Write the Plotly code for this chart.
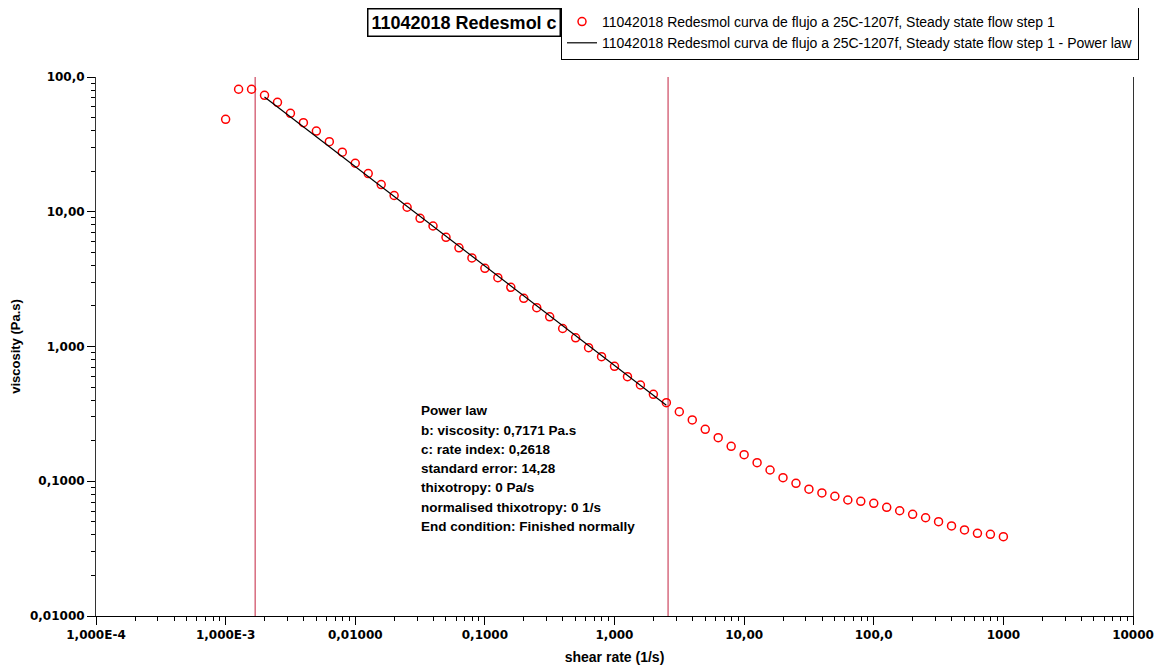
import plotly.graph_objects as go

# ---------------- data ----------------
shear_rate = [
    0.001, 0.001259, 0.001585, 0.001995, 0.002512, 0.003162, 0.003981, 0.005012, 0.00631, 0.007943,
    0.01, 0.01259, 0.01585, 0.01995, 0.02512, 0.03162, 0.03981, 0.05012, 0.0631, 0.07943,
    0.1, 0.1259, 0.1585, 0.1995, 0.2512, 0.3162, 0.3981, 0.5012, 0.631, 0.7943,
    1.0, 1.259, 1.585, 1.995, 2.512, 3.162, 3.981, 5.012, 6.31, 7.943,
    10.0, 12.59, 15.85, 19.95, 25.12, 31.62, 39.81, 50.12, 63.1, 79.43,
    100.0, 125.9, 158.5, 199.5, 251.2, 316.2, 398.1, 501.2, 631.0, 794.3,
    1000.0,
]
viscosity = [
    48.5, 81.1, 81.1, 73.1, 64.9, 53.8, 45.8, 39.7, 33.1, 27.7,
    22.9, 19.2, 15.9, 13.2, 10.8, 8.94, 7.84, 6.46, 5.4, 4.54,
    3.80, 3.24, 2.75, 2.28, 1.94, 1.66, 1.36, 1.16, 0.98, 0.840,
    0.713, 0.597, 0.518, 0.442, 0.383, 0.328, 0.285, 0.243, 0.2105, 0.1816,
    0.1574, 0.1374, 0.1212, 0.1063, 0.0966, 0.0873, 0.0819, 0.0774, 0.0726, 0.0710,
    0.0686, 0.0641, 0.0604, 0.0568, 0.0536, 0.0501, 0.0466, 0.0435, 0.0411, 0.0404,
    0.0388,
]
fit_x = [0.001995, 2.512]
fit_y = [71.0, 0.367]
fit_limits = [0.00169, 2.59]

series_name = "11042018 Redesmol curva de flujo a 25C-1207f, Steady state flow step 1"
fit_name = "11042018 Redesmol curva de flujo a 25C-1207f, Steady state flow step 1 - Power law"
title_text = "11042018 Redesmol c"

x_tickvals = [1e-4, 1e-3, 1e-2, 1e-1, 1, 10, 100, 1000, 10000]
x_ticktext = ["1,000E-4", "1,000E-3", "0,01000", "0,1000", "1,000", "10,00", "100,0", "1000", "10000"]
y_tickvals = [0.01, 0.1, 1, 10, 100]
y_ticktext = ["0,01000", "0,1000", "1,000", "10,00", "100,0"]

info_lines = [
    "Power law",
    "b: viscosity: 0,7171 Pa.s",
    "c: rate index: 0,2618",
    "standard error: 14,28",
    "thixotropy: 0 Pa/s",
    "normalised thixotropy: 0 1/s",
    "End condition: Finished normally",
]

# minor tick positions (2..9 within each decade)
x_minor = [m * 10.0 ** e for e in range(-4, 4) for m in range(2, 10)]
y_minor = [m * 10.0 ** e for e in range(-2, 2) for m in range(2, 10)]

# ---------------- layout geometry (pixels) ----------------
OFF = 8  # default page body margin
W, H = 1165 - OFF, 668 - OFF
L, T = 96 - OFF, 77 - OFF
PW, PH = 1037, 539
R, B = W - L - PW, H - T - PH


def px(xp):
    return (xp - OFF - L) / PW


def py(yp):
    return (T + PH - (yp - OFF)) / PH


# ---------------- figure ----------------
fig = go.Figure()

for xv in fit_limits:
    fig.add_trace(go.Scatter(
        x=[xv, xv], y=[0.01, 100], mode="lines",
        line=dict(color="rgb(205,70,95)", width=1.2),
        showlegend=False, hoverinfo="skip",
    ))

fig.add_trace(go.Scatter(
    x=shear_rate, y=viscosity, mode="markers", name=series_name,
    marker=dict(symbol="circle-open", color="#FF0000", size=8, line=dict(width=1.5, color="#FF0000")),
))
fig.add_trace(go.Scatter(
    x=fit_x, y=fit_y, mode="lines", name=fit_name,
    line=dict(color="black", width=1.2),
))

tick_font = dict(family="DejaVu Sans", size=12, color="black", weight="bold")

fig.update_xaxes(
    type="log", range=[-4, 4],
    tickmode="array", tickvals=x_tickvals, ticktext=x_ticktext,
    ticks="outside", ticklen=8, tickcolor="black", tickwidth=1,
    tickfont=tick_font,
    showline=True, linecolor="black", linewidth=1, mirror=False,
    showgrid=False, zeroline=False,
    minor=dict(tickmode="array", tickvals=x_minor, ticks="outside", ticklen=4,
               tickcolor="black", showgrid=False),
    title=dict(text="<b>shear rate (1/s)</b>", font=dict(family="Liberation Sans, Arial", size=14, color="black"),
               standoff=10),
)
fig.update_yaxes(
    type="log", range=[-2, 2],
    tickmode="array", tickvals=y_tickvals, ticktext=y_ticktext,
    ticks="outside", ticklen=8, tickcolor="black", tickwidth=1,
    tickfont=tick_font,
    showline=True, linecolor="#333333", linewidth=1, mirror=True,
    showgrid=False, zeroline=False,
    minor=dict(tickmode="array", tickvals=y_minor, ticks="outside", ticklen=4,
               tickcolor="black", showgrid=False),
    title=dict(text="<b>viscosity (Pa.s)</b>", font=dict(family="Liberation Sans, Arial", size=13, color="black"),
               standoff=6),
)

annotations = []
for i, line in enumerate(info_lines):
    annotations.append(dict(
        text="<b>%s</b>" % line, xref="paper", yref="paper",
        x=px(419), y=py(411 + 19.2 * i),
        xanchor="left", yanchor="middle", showarrow=False, align="left",
        font=dict(family="Liberation Sans, Arial", size=13.5, color="black"),
    ))

annotations.append(dict(
    text="<b>%s</b>" % title_text, xref="paper", yref="paper",
    x=px(561), y=py(8), xanchor="right", yanchor="top",
    showarrow=False, bordercolor="black", borderwidth=1.5, borderpad=3, bgcolor="white",
    font=dict(family="Liberation Sans, Arial", size=18, color="black"),
))

fig.update_layout(
    width=W, height=H,
    margin=dict(l=L, r=R, t=T, b=B, autoexpand=False),
    plot_bgcolor="white", paper_bgcolor="white",
    annotations=annotations,
    legend=dict(
        xref="paper", yref="paper", x=px(561), y=py(5),
        xanchor="left", yanchor="top",
        bgcolor="white", bordercolor="black", borderwidth=1,
        font=dict(family="Liberation Sans, Arial", size=14, color="black"),
        itemwidth=30, tracegroupgap=0,
    ),
    showlegend=True,
)

fig.write_html("out.html")
